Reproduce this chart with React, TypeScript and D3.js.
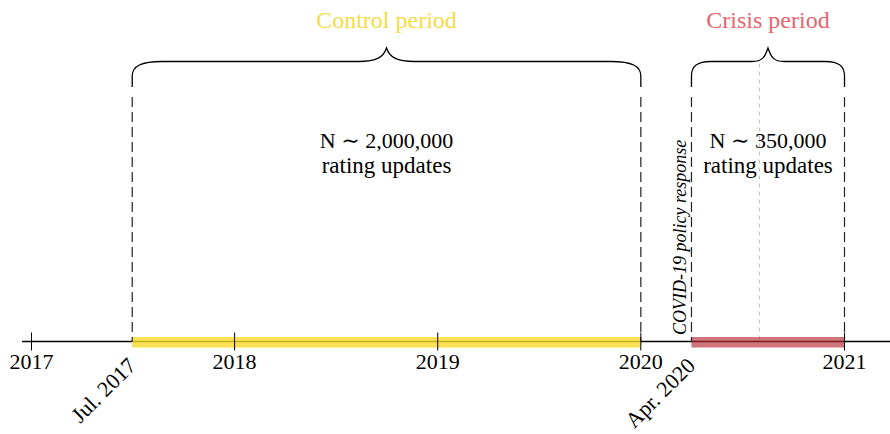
import React from "react";
import * as d3 from "d3";

const W = 890;
const H = 434;

const yearTicks = [2017, 2018, 2019, 2020, 2021];
const periods = [
  { name: "Control period", start: "2017-07-01", end: "2020-01-01", n: "N ∼ 2,000,000", sub: "rating updates", titleColor: "#f5dc45", band: "#f7d928", bandOpacity: 0.8 },
  { name: "Crisis period", start: "2020-04-01", end: "2021-01-01", n: "N ∼ 350,000", sub: "rating updates", titleColor: "#e8646e", band: "#b52a33", bandOpacity: 0.65 },
];
const rotatedLabels = [
  { date: "2017-07-01", text: "Jul. 2017" },
  { date: "2020-04-01", text: "Apr. 2020" },
];
const eventLabel = { date: "2020-04-01", text: "COVID-19 policy response" };
const midMarker = "2020-08-01";

const parse = d3.timeParse("%Y-%m-%d");

export default function App() {
  const x = d3
    .scaleTime()
    .domain([new Date(2017, 0, 1), new Date(2021, 0, 1)])
    .range([31.5, 844.5]);

  const axisY = 341.5;
  const yH = 61.5;
  const yTip = 48;
  const yEnd = 87;
  const font = "'Liberation Serif', 'DejaVu Serif', serif";

  const brace = (x0: number, x1: number, rEnd: number, rTip: number) => {
    const xm = (x0 + x1) / 2;
    const p = d3.path();
    p.moveTo(x0, yEnd);
    p.lineTo(x0, 76);
    p.bezierCurveTo(x0, 66, x0 + rEnd * 0.3, yH, x0 + rEnd, yH);
    p.lineTo(xm - rTip, yH);
    p.bezierCurveTo(xm - rTip * 0.35, yH, xm - 3, 57, xm, yTip);
    p.bezierCurveTo(xm + 3, 57, xm + rTip * 0.35, yH, xm + rTip, yH);
    p.lineTo(x1 - rEnd, yH);
    p.bezierCurveTo(x1 - rEnd * 0.3, yH, x1, 66, x1, 76);
    p.lineTo(x1, yEnd);
    return p.toString();
  };

  const mx = x(parse(midMarker)!);
  const ev = x(parse(eventLabel.date)!);

  return (
    <svg width={W} height={H} style={{ position: "absolute", left: 0, top: 0, background: "#fff" }}>
      <line x1={22} x2={W} y1={axisY} y2={axisY} stroke="#000" strokeWidth={1.5} />
      <line x1={mx} x2={mx} y1={yH + 2} y2={axisY} stroke="#bbb" strokeWidth={1} strokeDasharray="4,4" />
      {periods.map((p) => {
        const a = x(parse(p.start)!);
        const b = x(parse(p.end)!);
        return (
          <rect key={p.name + "b"} x={a} y={337} width={b - a} height={10.5} fill={p.band} opacity={p.bandOpacity} />
        );
      })}
      {yearTicks.map((yr) => {
        const tx = x(new Date(yr, 0, 1));
        return (
          <g key={yr}>
            <line x1={tx} x2={tx} y1={axisY - 9} y2={axisY + 9} stroke="#000" strokeWidth={1} />
            <text x={tx} y={369} textAnchor="middle" fontFamily={font} fontSize={22} fill="#000">
              {yr}
            </text>
          </g>
        );
      })}
      {periods.map((p) => {
        const a = x(parse(p.start)!);
        const b = x(parse(p.end)!);
        const m = (a + b) / 2;
        const big = b - a > 300;
        return (
          <g key={p.name}>
            <path d={brace(a, b, big ? 30 : 19, big ? 28 : 16)} fill="none" stroke="#000" strokeWidth={1.3} />
            {[a, b].map((xx, i) => (
              <line key={i} x1={xx} x2={xx} y1={97} y2={axisY} stroke="#222" strokeWidth={1.2} strokeDasharray="10,5" />
            ))}
            <text x={m} y={28} textAnchor="middle" fontFamily={font} fontSize={24} fill={p.titleColor}>
              {p.name}
            </text>
            <text x={m} y={148} textAnchor="middle" fontFamily={font} fontSize={22} fill="#000">
              {p.n}
            </text>
            <text x={m} y={173} textAnchor="middle" fontFamily={font} fontSize={23} fill="#000">
              {p.sub}
            </text>
          </g>
        );
      })}
      {rotatedLabels.map((l) => {
        const tx = x(parse(l.date)!);
        return (
          <text
            key={l.text}
            transform={`translate(${tx + 5},${367}) rotate(-45)`}
            textAnchor="end"
            fontFamily={font}
            fontSize={22}
            fill="#000"
          >
            {l.text}
          </text>
        );
      })}
      <text
        transform={`translate(${ev - 5},${335}) rotate(-90)`}
        textAnchor="start"
        fontFamily={font}
        fontStyle="italic"
        fontSize={18}
        fill="#000"
      >
        {eventLabel.text}
      </text>
    </svg>
  );
}
